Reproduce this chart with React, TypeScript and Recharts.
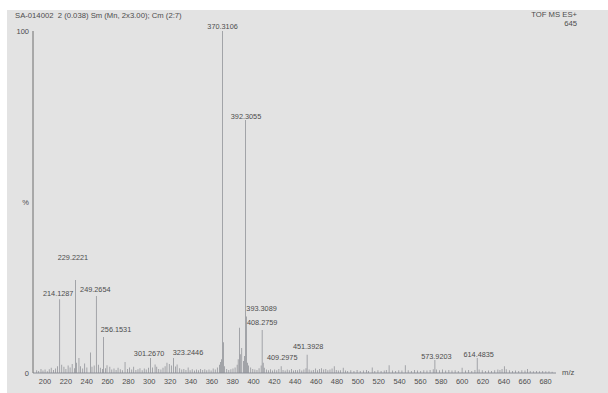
import React from "react";
import { BarChart, Bar, XAxis, YAxis, LabelList } from "recharts";

// Annotated peaks: m/z and relative intensity (%)
const peakMz = [
  214.1287, 229.2221, 249.2654, 256.1531, 301.267, 323.2446, 370.3106, 392.3055,
  393.3089, 408.2759, 409.2975, 451.3928, 573.9203, 614.4835,
];
const peakPct = [21.6, 27.2, 22.5, 10.5, 4.4, 4.4, 100, 74, 16.5, 12.6, 3, 5.3, 3.8, 4.4];

// Unannotated minor peaks and baseline noise
const minorMz = [
  192.1, 194.0, 196.2, 198.1, 200.1, 202.2, 204.1, 206.0, 208.1, 210.2, 212.1, 216.1, 218.2,
  220.1, 222.2, 224.1, 226.1, 228.2, 230.2, 232.6, 234.1, 236.2, 238.1, 240.2, 243.8, 245.1,
  247.2, 251.2, 253.1, 255.1, 258.1, 259.5, 262.2, 264.1, 266.2, 268.2, 270.1, 272.2, 274.2,
  276.8, 279.1, 281.2, 283.2, 285.1, 287.2, 289.2, 291.1, 293.2, 295.2, 297.1, 299.2, 303.2,
  305.6, 307.2, 309.1, 311.2, 313.2, 315.2, 317.0, 319.2, 321.2, 325.2, 326.7, 329.2, 331.2,
  333.2, 335.2, 337.3, 339.2, 341.2, 343.3, 345.2, 347.2, 349.3, 351.3, 353.3, 355.2, 357.3,
  359.3, 361.3, 363.3, 365.3, 367.3, 368.3, 369.3, 371.3, 372.3, 374.3, 376.3, 378.3, 380.3,
  382.3, 384.3, 385.3, 386.5, 387.3, 388.7, 390.3, 391.3, 394.3, 395.3, 397.3, 399.3, 401.3,
  403.3, 405.3, 407.3, 410.3, 412.3, 414.3, 416.3, 418.3, 420.3, 422.3, 424.3, 426.5, 428.3,
  430.3, 432.3, 434.3, 436.3, 438.3, 440.3, 442.3, 444.3, 446.3, 448.3, 450.3, 453.3, 455.3,
  457.3, 459.3, 461.3, 463.3, 465.3, 467.3, 469.3, 471.3, 473.3, 475.3, 477.4, 479.3, 481.3,
  483.3, 486.0, 488.3, 490.3, 493.3, 496.3, 499.3, 502.3, 505.3, 508.3, 510.3, 513.8, 516.3,
  519.3, 522.3, 525.3, 527.3, 530.0, 533.3, 536.3, 539.3, 542.3, 545.5, 548.3, 551.3, 554.3,
  557.3, 560.3, 563.3, 566.3, 569.3, 572.3, 575.3, 578.3, 581.3, 584.3, 587.3, 590.3, 593.3,
  596.3, 600.0, 603.3, 606.3, 609.3, 612.3, 616.3, 619.3, 622.3, 625.3, 628.3, 631.3, 634.3,
  636.3, 638.3, 640.5, 642.3, 645.3, 648.3, 651.3, 654.3, 657.3, 660.3, 662.6, 665.3, 668.3,
  671.3, 674.3, 677.3, 680.3, 683.3, 686.3,
];
const minorPct = [
  0.8, 0.6, 1.2, 0.7, 1.0, 0.5, 1.1, 1.5, 0.9, 1.3, 2.0, 2.4, 1.8,
  1.2, 2.2, 1.6, 2.6, 1.4, 3.0, 4.4, 2.0, 1.3, 2.8, 1.6, 6.0, 1.8,
  2.2, 2.4, 1.5, 1.2, 1.4, 2.3, 1.8, 1.0, 1.3, 0.9, 1.5, 1.1, 0.8,
  3.2, 1.2, 1.6, 1.0, 1.8, 0.9, 1.1, 1.4, 0.8, 1.3, 1.0, 1.5, 1.6,
  2.5, 1.8, 1.2, 1.0, 1.5, 2.0, 3.0, 2.6, 2.2, 1.9, 2.5, 1.4, 1.0,
  1.2, 0.9, 1.6, 0.8, 1.1, 0.7, 1.0, 0.8, 1.2, 0.9, 1.1, 0.8, 1.0,
  0.7, 1.3, 1.0, 1.6, 2.4, 3.2, 4.0, 9.0, 2.0, 1.2, 0.9, 1.1, 1.3,
  1.6, 2.4, 4.0, 13.2, 5.5, 7.3, 3.5, 5.0, 3.0, 2.2, 1.6, 1.2, 1.0,
  0.9, 1.4, 2.2, 1.5, 1.0, 0.8, 1.1, 0.7, 1.0, 0.8, 1.2, 2.0, 0.9,
  0.7, 1.0, 0.8, 1.2, 0.7, 0.9, 0.8, 1.1, 0.7, 1.0, 1.4, 1.0, 0.7,
  0.9, 1.3, 0.8, 1.2, 1.4, 1.0, 1.2, 0.8, 1.0, 1.3, 2.0, 0.9, 0.7,
  0.8, 1.5, 0.7, 0.6, 0.8, 0.6, 0.9, 0.6, 0.7, 0.9, 0.6, 1.6, 0.6,
  0.8, 0.6, 0.7, 0.9, 2.3, 0.7, 0.6, 0.8, 0.7, 2.3, 0.8, 0.6, 0.9,
  0.7, 0.6, 0.8, 0.7, 0.9, 1.1, 1.0, 0.8, 1.0, 0.7, 0.9, 0.7, 0.8,
  0.6, 1.5, 0.7, 0.9, 0.6, 0.9, 1.0, 0.8, 0.6, 0.7, 0.6, 0.8, 1.0,
  0.9, 1.2, 2.0, 1.1, 0.8, 0.6, 0.7, 0.6, 0.8, 0.7, 1.2, 0.6, 0.5,
  0.6, 0.5, 0.6, 0.5, 0.5, 0.4,
];

const xTicks = [200, 220, 240, 260, 280, 300, 320, 340, 360, 380, 400, 420, 440, 460, 480, 500, 520, 540, 560, 580, 600, 620, 640, 660, 680];
const yTicks = [0, 50, 100];

const headerText = "SA-014002  2 (0.038) Sm (Mn, 2x3.00); Cm (2:7)";
const modeText = "TOF MS ES+";
const scaleText = "645";
const xUnit = "m/z";

// Per-label nudges [dx, dy] relative to the top of its stick
const labelNudge: Record<string, [number, number]> = {
  "214.1287": [-1.5, -6],
  "229.2221": [-2.5, -22],
  "249.2654": [-1, -7],
  "256.1531": [12.5, -8],
  "301.2670": [-1.5, -4],
  "323.2446": [14.5, -5],
  "370.3106": [0, -5],
  "392.3055": [0.5, -3],
  "393.3089": [15, -7.6],
  "408.2759": [0, -7],
  "409.2975": [19, -5.7],
  "451.3928": [1, -8],
  "573.9203": [1.5, -4],
  "614.4835": [1.5, -3],
};

const table = [
  ...peakMz.map((mz, i) => ({ mz, pct: peakPct[i], label: mz.toFixed(4) })),
  ...minorMz.map((mz, i) => ({ mz, pct: minorPct[i], label: undefined as string | undefined })),
].sort((a, b) => a.mz - b.mz);

const FONT = "'Liberation Sans', Arial, sans-serif";
const TEXT = "#4d4d4d";
const STICK = "#8d8f95";

function PeakLabel(props: any) {
  const { x, y, width, value } = props;
  if (!value) return null;
  const [dx, dy] = labelNudge[value] ?? [0, -6];
  return (
    <text
      x={Number(x) + Number(width) / 2 + dx}
      y={Number(y) + dy}
      textAnchor="middle"
      dominantBaseline="central"
      fontSize={7.3}
      fontFamily={FONT}
      fill={TEXT}
    >
      {value}
    </text>
  );
}

const textStyle: React.CSSProperties = {
  position: "absolute",
  fontFamily: FONT,
  fontSize: 7.7,
  color: TEXT,
  lineHeight: "9px",
  whiteSpace: "pre",
};

export default function App() {
  return (
    <div style={{ position: "absolute", left: 0, top: 0, width: 608, height: 393, background: "#ffffff", overflow: "hidden" }}>
      <div style={{ position: "absolute", left: 7, top: 10, right: 0, bottom: 0, background: "#e3e3e3" }} />
      <div style={{ position: "absolute", left: 0, top: 0 }}>
        <BarChart
          width={608}
          height={393}
          data={table}
          margin={{ top: 31, right: 52, bottom: 0, left: 0 }}
          barCategoryGap={0}
        >
          <XAxis
            type="number"
            dataKey="mz"
            domain={[188.5, 690]}
            ticks={xTicks}
            allowDataOverflow
            height={20}
            tickLine={false}
            tickSize={4}
            tickMargin={1.5}
            axisLine={{ stroke: "#8a8d96", strokeWidth: 1 }}
            tick={{ fontSize: 7.4, fontFamily: FONT, fill: TEXT }}
            interval={0}
          />
          <YAxis
            domain={[0, 100]}
            ticks={yTicks}
            width={33}
            tickLine={false}
            tickSize={0}
            tickMargin={4}
            axisLine={{ stroke: "#6e6e6e", strokeWidth: 1 }}
            tick={{ fontSize: 7.5, fontFamily: FONT, fill: TEXT }}
            tickFormatter={(v: number) => (v === 50 ? "%" : String(v))}
          />
          <Bar dataKey="pct" barSize={1} fill={STICK} isAnimationActive={false}>
            <LabelList dataKey="label" content={PeakLabel} />
          </Bar>
        </BarChart>
      </div>
      <div style={{ ...textStyle, left: 15, top: 11 }}>{headerText}</div>
      <div style={{ ...textStyle, right: 608 - 577, top: 10, textAlign: "right" }}>{modeText}</div>
      <div style={{ ...textStyle, right: 608 - 577, top: 19, textAlign: "right" }}>{scaleText}</div>
      <div style={{ ...textStyle, left: 562, top: 368 }}>{xUnit}</div>
    </div>
  );
}
